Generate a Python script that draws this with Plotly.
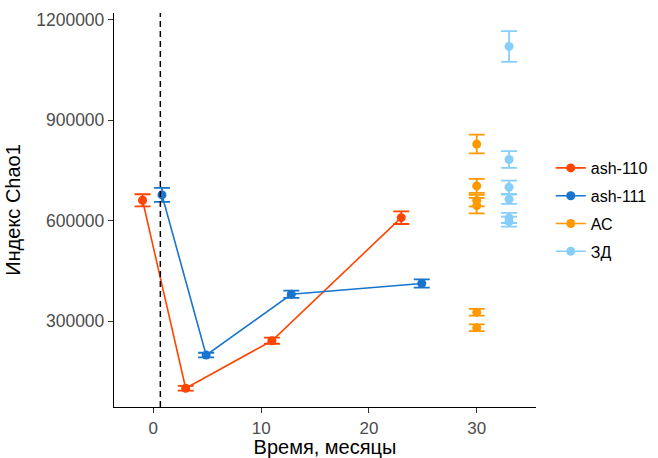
import plotly.graph_objects as go

# ---- data ----
ash110_x = [-1, 3, 11, 23]
ash110_y = [661000, 99000, 241000, 609000]
ash110_err = [18000, 7000, 9000, 19000]

ash111_x = [0.8, 4.9, 12.8, 24.9]
ash111_y = [677000, 198000, 380000, 412000]
ash111_err = [21000, 7000, 11000, 12500]

ac_x = [30, 30, 30, 30, 30, 30]
ac_y = [829000, 704000, 660000, 645000, 326000, 280000]
ac_err = [28000, 21000, 17000, 23000, 10000, 10000]

zd_x = [33, 33, 33, 33, 33, 33]
zd_y = [1121000, 783000, 700000, 664000, 608000, 597000]
zd_err = [46000, 25000, 20000, 14000, 15000, 15000]

x_ticks = [0, 10, 20, 30]
y_ticks = [300000, 600000, 900000, 1200000]
vline_x = 0.65

names = ["ash-110", "ash-111", "АС", "ЗД"]
colors = ["#FF4500", "#1874CD", "#FF9900", "#87CEFA"]

FONT = "Liberation Sans"


def gapped(vals):
    out = []
    for v in vals:
        out += [v, None]
    return out


fig = go.Figure()

series = [
    (ash110_x, ash110_y, ash110_err, False),
    (ash111_x, ash111_y, ash111_err, False),
    (ac_x, ac_y, ac_err, True),
    (zd_x, zd_y, zd_err, True),
]

for (xs, ys, es, gap), name, col in zip(series, names, colors):
    if gap:
        xs, ys, es = gapped(xs), gapped(ys), gapped(es)
    fig.add_trace(go.Scatter(
        x=xs, y=ys, name=name, mode="lines+markers",
        connectgaps=False, legendgroup=name,
        line=dict(color=col, width=1.6),
        marker=dict(color=col, size=9),
        error_y=dict(type="data", array=es, visible=True,
                     color=col, thickness=1.8, width=8),
    ))

fig.add_vline(x=vline_x, line=dict(color="black", width=1.5, dash="6px,4px"))

fig.update_layout(
    width=658, height=458,
    margin=dict(l=114, r=122, t=13, b=51, autoexpand=False),
    paper_bgcolor="white", plot_bgcolor="white",
    font=dict(family=FONT, color="black"),
    showlegend=True,
    legend=dict(x=1.035, xanchor="left", y=0.5, yanchor="middle",
                font=dict(size=16, color="black", family=FONT),
                tracegroupgap=4, traceorder="grouped"),
)

fig.update_xaxes(
    automargin=False,
    range=[-3.65, 35.5], tickvals=x_ticks, ticktext=[str(v) for v in x_ticks],
    showgrid=False, zeroline=False, showline=True, linecolor="black", linewidth=1.3,
    ticks="outside", ticklen=5, tickcolor="#333333", tickwidth=1.2,
    tickfont=dict(size=17, color="#4D4D4D", family=FONT),
    title=dict(text="Время, месяцы", font=dict(size=20, color="black", family=FONT), standoff=9),
)
fig.update_yaxes(
    automargin=False,
    range=[42870, 1220900], tickvals=y_ticks, ticktext=[str(v) for v in y_ticks],
    showgrid=False, zeroline=False, showline=True, linecolor="black", linewidth=1.3,
    ticks="outside", ticklen=5, tickcolor="#333333", tickwidth=1.2,
    tickfont=dict(size=17.5, color="#4D4D4D", family=FONT),
    title=dict(text="Индекс Chao1", font=dict(size=20, color="black", family=FONT), standoff=10),
)

fig.write_html("out.html")
